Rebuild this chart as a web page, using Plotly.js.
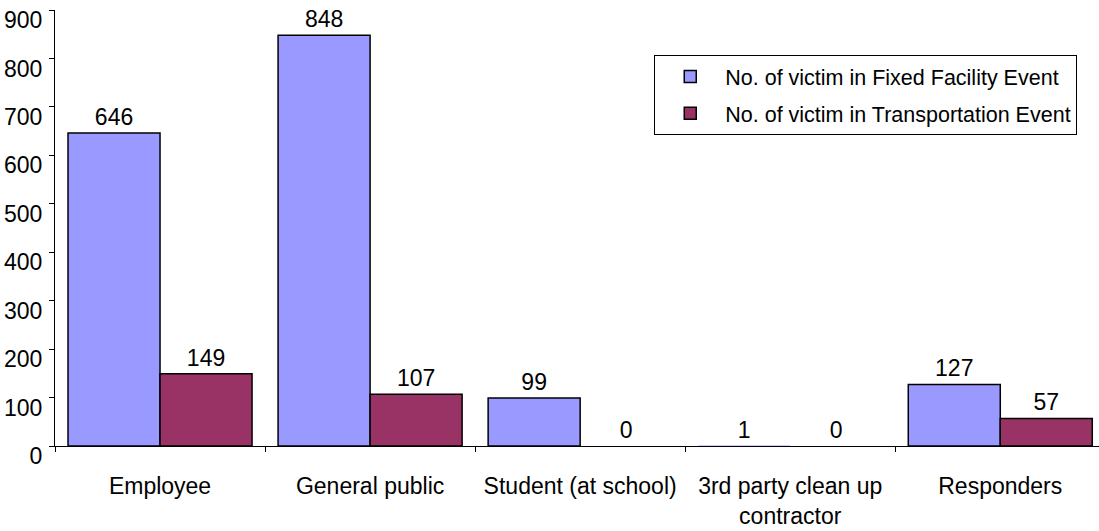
<!DOCTYPE html>
<html>
<head>
<meta charset="utf-8">
<script src="https://cdn.plot.ly/plotly-3.0.1.min.js"></script>
<style>
  html, body { margin: 0; padding: 0; background: #fff; }
  #chart { width: 1099px; height: 531px; }
</style>
</head>
<body>
<div id="chart"></div>
<script>
// Victim counts by group, split by event type
const categories = [
  "Employee",
  "General public",
  "Student (at school)",
  "3rd party clean up<br>contractor",
  "Responders"
];
const fixedFacility = [646, 848, 99, 1, 127];
const transportation = [149, 107, 0, 0, 57];
const seriesNames = [
  "No. of victim in Fixed Facility Event",
  "No. of victim in Transportation Event"
];
const yTicks = [0, 100, 200, 300, 400, 500, 600, 700, 800, 900];

const font = "Arial, 'Liberation Sans', sans-serif";

function barTrace(values, name, color, group) {
  return {
    type: "bar",
    x: categories,
    y: values,
    name: name,
    legendgroup: group,
    text: values.map(String),
    textposition: "outside",
    cliponaxis: false,
    textfont: { family: font, size: 23, color: "#000" },
    // outlines only on bars tall enough to be seen
    marker: {
      color: color,
      line: { color: "#000", width: values.map(v => (v >= 5 ? 1.5 : 0)) }
    },
    hoverinfo: "x+y"
  };
}

const data = [
  barTrace(fixedFacility, seriesNames[0], "#9999FF", "fixed"),
  barTrace(transportation, seriesNames[1], "#993366", "transport")
];

const layout = {
  width: 1099,
  height: 531,
  margin: { l: 55, r: 0, t: 10, b: 85 },
  paper_bgcolor: "#fff",
  plot_bgcolor: "#fff",
  barmode: "group",
  bargap: 0.124,
  bargroupgap: 0,
  font: { family: font, color: "#000" },
  showlegend: true,
  legend: {
    x: 0.574, y: 0.897, xanchor: "left", yanchor: "top",
    bgcolor: "#fff", bordercolor: "#000", borderwidth: 1,
    font: { family: font, size: 21.5, color: "#000" },
    traceorder: "grouped",
    tracegroupgap: 6,
    itemwidth: 60,
    entrywidth: 420
  },
  xaxis: {
    type: "category",
    range: [-0.5, 4.47],
    showline: true, linecolor: "#000", linewidth: 1,
    ticks: "outside", tickson: "boundaries", ticklen: 5, tickcolor: "#000",
    tickfont: { family: font, size: 23, color: "#000" },
    ticklabelstandoff: 19,
    showgrid: false, zeroline: false, automargin: false,
    fixedrange: true
  },
  yaxis: {
    range: [0, 900],
    tickvals: yTicks,
    ticktext: yTicks.map(String),
    showline: true, linecolor: "#000", linewidth: 1,
    ticks: "outside", ticklen: 5, tickcolor: "#000",
    tickfont: { family: font, size: 23, color: "#000" },
    ticklabelshift: 10,
    ticklabelstandoff: 2,
    showgrid: false, zeroline: false, automargin: false,
    fixedrange: true
  }
};

Plotly.newPlot("chart", data, layout, { displayModeBar: false, staticPlot: true });
</script>
</body>
</html>
